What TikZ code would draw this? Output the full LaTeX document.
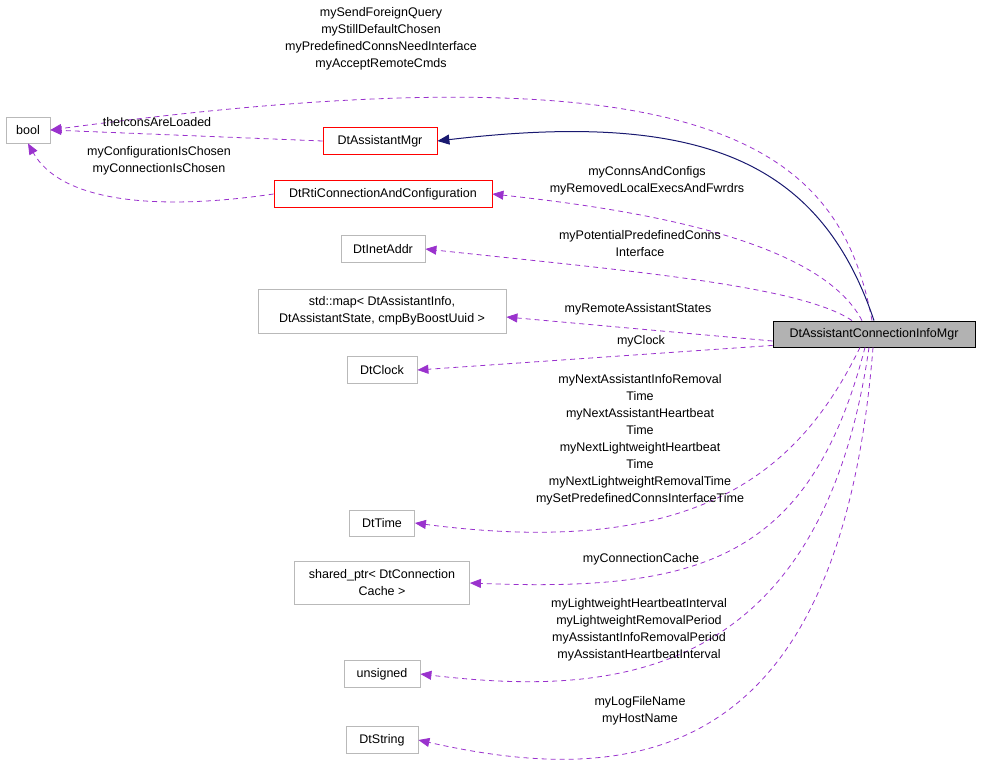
\documentclass[tikz,border=0pt]{standalone}
\usepackage{fontspec}
\setmainfont{Liberation Sans}
\usetikzlibrary{arrows.meta}
\definecolor{dorch}{HTML}{9A32CD}
\definecolor{mblue}{HTML}{191970}
\begin{document}
\begin{tikzpicture}[x=1pt,y=-1pt,
  every node/.style={font=\fontsize{12.5}{17}\selectfont},
  box/.style={draw=gray!55,fill=white,inner sep=0pt,align=center,line width=0.8pt},
  rbox/.style={box,draw=red},
  dep/.style={draw=dorch,dashed,dash pattern=on 5pt off 4pt,line width=0.8pt,-{Triangle[length=11pt,width=9pt,fill=dorch]}},
  inh/.style={draw=mblue,line width=1pt,-{Triangle[length=12pt,width=10pt,fill=mblue]}},
  lbl/.style={inner sep=0pt,align=center}]
\useasboundingbox (0,0) rectangle (981,782);
\node[box,minimum width=44pt,minimum height=26pt] (bool) at (28,130) {bool};
\node[rbox,minimum width=114pt,minimum height=27pt] (mgr) at (380,141) {DtAssistantMgr};
\node[rbox,minimum width=218pt,minimum height=27pt] (rti) at (383,194) {DtRtiConnectionAndConfiguration};
\node[box,minimum width=84pt,minimum height=27pt] (inet) at (383,249) {DtInetAddr};
\node[box,minimum width=248pt,minimum height=44pt] (map) at (382,311) {std::map< DtAssistantInfo,\\ DtAssistantState, cmpByBoostUuid >};
\node[box,minimum width=70pt,minimum height=27pt] (clock) at (382,370) {DtClock};
\node[box,minimum width=65pt,minimum height=26pt] (time) at (382,523) {DtTime};
\node[box,minimum width=175pt,minimum height=43pt] (sp) at (382,583) {shared\_ptr< DtConnection\\ Cache >};
\node[box,minimum width=76pt,minimum height=27pt] (uns) at (382,674) {unsigned};
\node[box,minimum width=72pt,minimum height=27pt] (str) at (382,740) {DtString};
\node[draw=black,fill=gray!60,inner sep=0pt,minimum width=202pt,minimum height=26pt,line width=0.8pt] (main) at (874,334) {DtAssistantConnectionInfoMgr};

\draw[dep] ([xshift=-2pt]main.north) .. controls (840,150) and (720,40) .. (bool.east);
\draw[dep] (mgr.west) -- (bool.east |- 0,130);
\draw[dep] (rti.west) .. controls (150,212) and (60,200) .. (bool.south);
\draw[inh] (main.north) .. controls (820,160) and (700,110) .. (mgr.east);
\draw[dep] ([xshift=-12pt]main.north) .. controls (820,240) and (640,210) .. (rti.east);
\draw[dep] ([xshift=-22pt]main.north) .. controls (800,285) and (620,270) .. (inet.east);
\draw[dep] ([yshift=-7pt]main.west) -- (map.east |- 0,317);
\draw[dep] ([yshift=2pt]main.south west) -- (clock.east);
\draw[dep] ([xshift=-14pt]main.south) .. controls (800,470) and (700,560) .. (time.east);
\draw[dep] ([xshift=-9pt]main.south) .. controls (810,560) and (700,592) .. (sp.east);
\draw[dep] ([xshift=-5pt]main.south) .. controls (820,690) and (600,695) .. (uns.east);
\draw[dep] ([xshift=-1pt]main.south) .. controls (840,760) and (640,790) .. (str.east);

\node[lbl] (l1) at (381,38.5) {mySendForeignQuery\\myStillDefaultChosen\\myPredefinedConnsNeedInterface\\myAcceptRemoteCmds};
\node[lbl] (l2) at (157,122) {theIconsAreLoaded};
\node[lbl] (l3) at (159,160.5) {myConfigurationIsChosen\\myConnectionIsChosen};
\node[lbl] (l4) at (647,181) {myConnsAndConfigs\\myRemovedLocalExecsAndFwrdrs};
\node[lbl] (l5) at (640,244) {myPotentialPredefinedConns\\Interface};
\node[lbl] (l6) at (638,309) {myRemoteAssistantStates};
\node[lbl] (l7) at (641,341) {myClock};
\node[lbl] (l8) at (640,439.5) {myNextAssistantInfoRemoval\\Time\\myNextAssistantHeartbeat\\Time\\myNextLightweightHeartbeat\\Time\\myNextLightweightRemovalTime\\mySetPredefinedConnsInterfaceTime};
\node[lbl] (l9) at (641,559) {myConnectionCache};
\node[lbl] (l10) at (639,630) {myLightweightHeartbeatInterval\\myLightweightRemovalPeriod\\myAssistantInfoRemovalPeriod\\myAssistantHeartbeatInterval};
\node[lbl] (l11) at (640,710.5) {myLogFileName\\myHostName};
\end{tikzpicture}
\end{document}
